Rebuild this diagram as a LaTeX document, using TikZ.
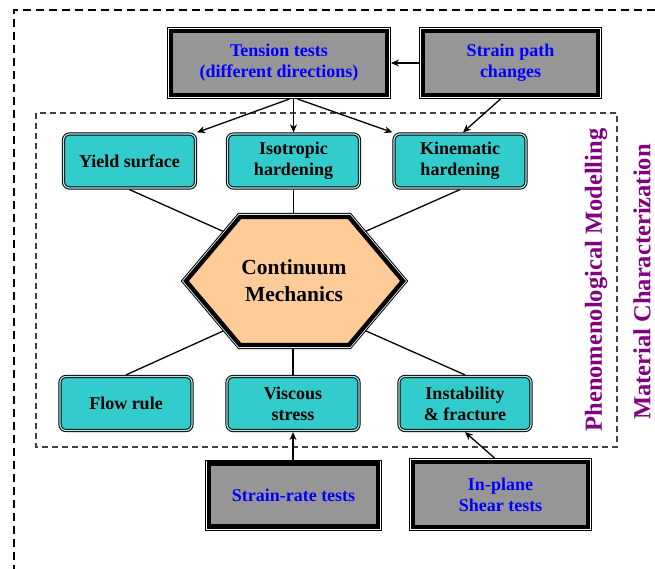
\documentclass[tikz,border=0pt]{standalone}
\usepackage{fontspec}
\setmainfont{Liberation Serif}
\usetikzlibrary{arrows.meta}
\definecolor{testgray}{HTML}{969696}
\definecolor{boxteal}{HTML}{33CCCC}
\definecolor{hexorange}{HTML}{FFCC99}
\definecolor{labelpurple}{HTML}{800080}
\begin{document}
\begin{tikzpicture}[x=1pt, y=-1pt,
  testbox/.style={fill=testgray, text=blue, font=\fontsize{18}{21}\selectfont\bfseries,
    align=center, inner sep=0pt, outer sep=4pt, line width=4.4pt,
    preaction={draw, line width=8pt, black},
    preaction={draw, line width=6pt, white}, draw=black},
  partbox/.style={fill=boxteal, font=\fontsize{18}{21}\selectfont\bfseries, align=center,
    inner sep=0pt, rounded corners=6pt, draw=black, line width=1pt,
    double=white!60!boxteal, double distance=1.2pt, outer sep=1.6pt,
    minimum width=132pt, minimum height=54pt},
  link/.style={line width=1.3pt},
  feed/.style={line width=1.3pt, -{Stealth[length=8pt, width=7pt]}},
  sidelabel/.style={rotate=90, inner sep=0pt, text=labelpurple, font=\fontsize{24.5}{28}\selectfont\bfseries}]
\useasboundingbox (0,0) rectangle (655,569);
% frames
\draw[dashed, line width=1.4pt, dash pattern=on 8pt off 5pt] (655,10) -| (14,569);
\draw[line width=1.2pt, black!75, dash pattern=on 6pt off 4pt] (36,113) rectangle (617,447);

% tests
\node[testbox, minimum width=216pt, minimum height=64pt] (tension) at (279,63) {Tension tests\\(different directions)};
\node[testbox, minimum width=175pt, minimum height=64pt] (strain) at (510.5,63) {Strain path\\changes};
\node[testbox, minimum width=169pt, minimum height=63pt] (srate) at (293.5,495) {Strain-rate tests};
\node[testbox, minimum width=175pt, minimum height=65pt] (inplane) at (500.5,494.5) {In-plane\\Shear tests};

% model parts
\node[partbox] (yield) at (129.5,161) {Yield surface};
\node[partbox] (iso) at (293.5,161) {Isotropic\\hardening};
\node[partbox] (kin) at (460,161) {Kinematic\\hardening};
\node[partbox] (flow) at (126,403.5) {Flow rule};
\node[partbox] (visc) at (293,403.5) {Viscous\\stress};
\node[partbox] (instab) at (465,403.5) {Instability\\\& fracture};

% links to the hexagon
\coordinate (hc) at (294,281);
\draw[link] (yield.south) -- ([yshift=18]hc);
\draw[link] (iso.south) -- (iso.south |- hc);
\draw[link] (kin.south) -- ([yshift=18]hc);
\draw[link] (flow.north) -- ([yshift=-18]hc);
\draw[link] (visc.north) -- (visc.north |- hc);
\draw[link] (instab.north) -- ([yshift=-18]hc);

\draw[fill=hexorange, line width=4.4pt, line join=miter,
  preaction={draw, line width=8pt, black},
  preaction={draw, line width=6pt, white}]
  (186,281) -- (240,217) -- (349,217) -- (403,281) -- (349,345) -- (240,345) -- cycle;
\node[font=\fontsize{21.5}{27}\selectfont\bfseries, align=center] (cm) at (hc) {Continuum\\Mechanics};

% test feeds
\draw[feed] (strain.west) -- (tension.east);
\draw[feed] ([xshift=-4]tension.south -| iso.north) -- (yield.north east);
\draw[feed] (tension.south -| iso.north) -- (iso.north);
\draw[feed] ([xshift=4]tension.south -| iso.north) -- (kin.north west);
\draw[feed] ([xshift=-10]strain.south) -- ([xshift=3]kin.north);
\draw[feed] (srate.north -| visc.south) -- (visc.south);
\draw[feed] ([xshift=-6]inplane.north) -- (instab.south);

% side labels
\node[sidelabel] (pm) at (596,280) {Phenomenological Modelling};
\node[sidelabel] (mc) at (642,282) {Material Characterization};
\end{tikzpicture}
\end{document}
